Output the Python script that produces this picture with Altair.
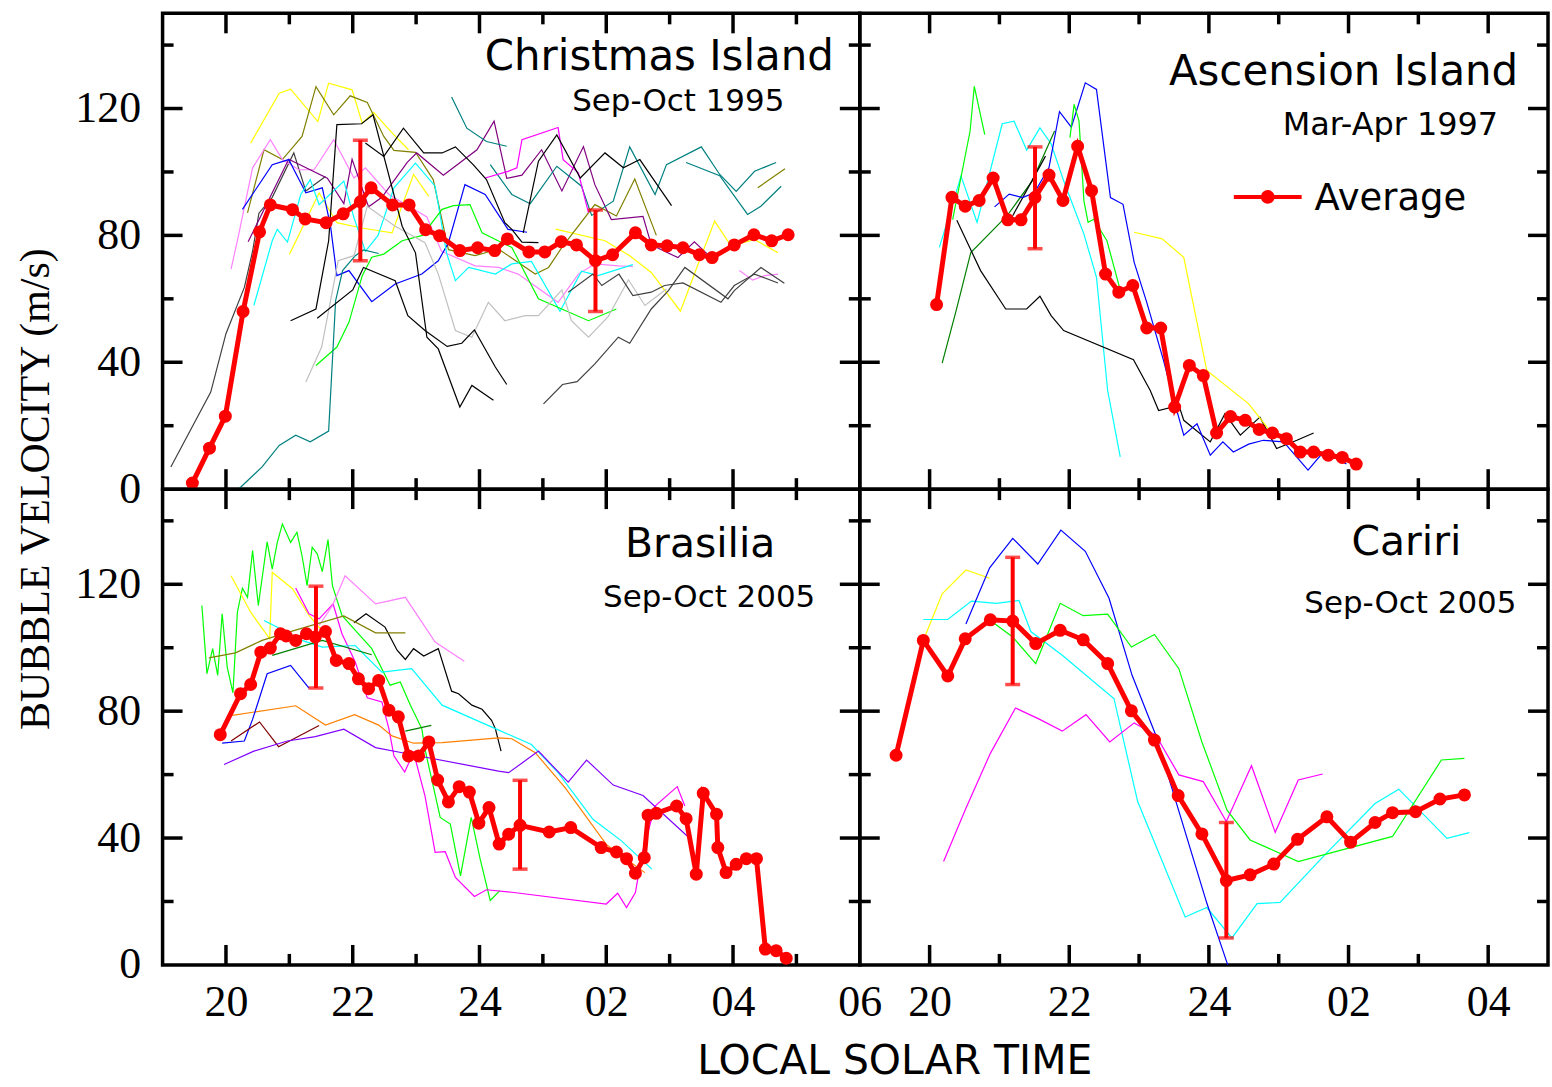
import altair as alt
import pandas as pd

# ---------------- Christmas Island, Sep-Oct 1995 ----------------
CI_AVG_T = [19.47, 19.74, 19.99, 20.27, 20.53, 20.70, 21.05, 21.25, 21.58, 21.85, 22.12, 22.29,
            22.63, 22.89, 23.15, 23.37, 23.69, 23.97, 24.24, 24.44, 24.78, 25.03, 25.29, 25.53,
            25.83, 26.10, 26.46, 26.71, 26.96, 27.21, 27.47, 27.67, 28.02, 28.33, 28.61, 28.87]
CI_AVG_V = [1.9, 12.9, 23.0, 56.0, 81.1, 89.6, 88.1, 85.2, 84.0, 86.8, 90.6, 95.0,
            89.6, 89.6, 81.8, 79.9, 75.2, 76.1, 75.2, 78.9, 74.8, 74.8, 78.0, 77.0,
            72.0, 73.9, 80.8, 77.0, 76.7, 76.1, 73.9, 73.0, 77.0, 80.2, 78.3, 80.2]
CI_ERR_T = [22.12, 25.83]
CI_ERR_LO = [72.0, 56.0]
CI_ERR_HI = [110.0, 88.0]

CI_DGRAY1 = [(19.13, 7.0), (19.76, 30.6), (20.00, 49.0), (20.29, 63.6), (20.42, 75.0), (20.52, 87.0),
             (20.73, 92.0), (21.07, 106.0), (21.26, 94.0), (21.57, 98.6)]
CI_YELLOW1 = [(20.39, 109.1), (20.84, 124.8), (21.02, 126.1), (21.45, 115.9), (21.62, 128.0), (21.99, 125.9),
              (22.15, 115.4), (22.33, 118.8), (22.62, 112.3), (22.88, 107.0)]
CI_YELLOW2 = [(21.00, 74.0), (21.47, 93.4), (21.75, 84.0), (22.12, 82.4), (22.62, 80.8), (22.96, 99.2), (23.20, 92.3)]
CI_YELLOW3 = [(25.20, 82.0), (25.98, 78.3), (26.37, 73.6), (26.71, 68.3), (27.17, 56.1), (27.45, 71.0),
              (27.71, 84.5), (27.97, 76.6), (28.34, 78.7), (28.71, 74.5)]
CI_OLIVE1 = [(20.34, 87.1), (20.60, 107.0), (20.89, 103.9), (21.20, 111.2), (21.42, 126.9), (21.70, 118.0),
             (21.96, 124.0), (22.23, 121.9), (22.49, 111.2), (22.65, 106.8), (22.99, 106.2), (23.27, 97.6),
             (23.51, 75.5), (23.93, 73.6), (24.30, 75.7), (24.88, 67.8), (25.09, 69.9), (25.30, 76.2),
             (25.82, 89.7), (26.16, 86.1), (26.45, 97.8), (26.79, 80.0)]
CI_OLIVE2 = [(28.39, 95.0), (28.82, 101.0)]
CI_PINK1 = [(20.08, 69.4), (20.18, 78.3), (20.42, 101.3), (20.70, 110.2), (20.89, 103.9), (21.15, 100.7),
            (21.39, 100.7), (21.70, 110.2), (22.02, 98.1), (22.20, 101.3), (22.57, 92.9), (23.17, 85.8),
            (23.40, 75.0), (23.93, 70.4), (24.30, 69.9), (24.61, 67.8), (25.24, 58.9), (25.56, 67.8),
            (25.82, 71.0), (26.19, 70.4), (26.42, 70.2)]
CI_PINK2 = [(28.10, 68.9), (28.31, 65.9), (28.50, 67.3), (28.71, 67.8)]
CI_PURPLE = [(20.35, 78.0), (20.99, 104.0), (21.60, 98.0), (21.86, 90.0), (21.99, 104.0), (22.25, 89.0),
             (22.46, 92.0), (22.86, 103.0), (23.01, 106.0), (23.43, 99.0), (23.96, 107.0), (24.23, 116.0),
             (24.43, 98.0), (24.67, 99.0), (24.98, 107.0), (25.30, 94.0), (25.64, 108.0), (25.82, 96.0),
             (26.08, 85.0), (26.58, 86.0), (26.71, 77.0), (27.13, 73.0), (27.39, 78.0), (27.60, 74.0)]
CI_BLUE = [(20.26, 88.2), (20.73, 102.3), (20.99, 103.9), (21.26, 93.4), (21.52, 95.0), (21.65, 82.9),
           (21.75, 67.3), (21.94, 68.9), (22.30, 59.1), (22.67, 64.7), (23.09, 67.8), (23.35, 72.0),
           (23.51, 77.7), (23.77, 96.0), (24.09, 92.9), (24.45, 81.9), (24.75, 81.0)]
CI_CYAN = [(20.44, 57.9), (20.73, 78.3), (20.81, 81.9), (20.97, 77.9), (21.18, 92.9), (21.33, 97.6),
           (21.47, 89.7), (21.86, 97.1), (22.02, 85.5), (22.20, 75.0), (22.40, 80.0), (22.65, 95.0),
           (22.99, 102.8), (23.30, 95.5), (23.48, 74.5), (23.62, 65.7), (23.83, 69.9), (24.25, 67.8),
           (24.51, 71.0), (24.82, 71.8), (25.27, 56.1), (25.61, 68.7), (25.87, 67.3), (26.42, 70.8)]
CI_GREEN = [(21.42, 39.0), (21.75, 44.8), (21.94, 52.6), (22.15, 67.3), (22.30, 73.1), (22.49, 74.1),
            (22.78, 78.3), (23.10, 80.0), (23.41, 88.2), (23.59, 89.4), (23.85, 89.7), (24.04, 80.8),
            (24.51, 76.2), (24.93, 60.0), (25.72, 53.1), (26.16, 56.8)]
CI_TEAL1 = [(20.21, 0.2), (20.57, 7.0), (20.84, 13.8), (21.10, 17.0), (21.33, 14.9), (21.62, 18.3),
            (21.73, 59.4), (21.84, 68.9), (22.04, 73.6), (22.17, 75.4), (22.41, 74.3)]
CI_TEAL2 = [(23.56, 123.6), (23.80, 113.8), (24.11, 109.6), (24.43, 108.1)]
CI_TEAL3 = [(24.17, 102.3), (24.51, 92.9), (24.80, 90.0), (25.22, 101.8), (25.61, 95.5), (25.77, 86.3),
            (26.11, 90.8), (26.37, 107.9), (26.77, 92.9), (26.95, 102.3), (27.50, 107.9), (27.79, 99.2),
            (28.05, 93.9), (28.34, 100.2), (28.68, 103.0)]
CI_TEAL4 = [(27.26, 103.0), (27.79, 98.8), (28.23, 86.6), (28.44, 89.2), (28.76, 95.5)]
CI_MAGENTA = [(24.09, 98.1), (24.45, 100.2), (24.59, 101.3), (24.67, 110.2), (25.24, 114.0), (25.32, 103.9),
              (25.56, 99.7), (25.72, 87.1)]
CI_LGRAY = [(21.26, 33.8), (21.51, 44.8), (21.77, 72.0), (22.02, 73.6), (22.23, 89.2), (22.67, 82.9),
            (23.14, 77.7), (23.35, 67.8), (23.62, 50.0), (23.88, 47.9), (24.14, 58.9), (24.40, 53.1),
            (24.72, 54.7), (24.93, 54.7), (25.30, 62.8), (25.45, 53.1), (25.72, 47.9), (26.03, 54.4),
            (26.35, 66.0), (26.61, 57.9), (26.95, 63.1)]
CI_BLACK1 = [(21.02, 53.1), (21.42, 56.8), (21.62, 78.3), (21.75, 114.9), (22.14, 115.2), (22.32, 118.0),
             (22.78, 82.9), (22.99, 74.5), (23.17, 47.9), (23.35, 44.2), (23.69, 25.9), (23.88, 32.7), (24.22, 28.0)]
CI_BLACK2 = [(21.44, 53.9), (22.00, 62.8), (22.17, 69.9), (22.67, 65.7), (22.87, 54.7), (23.14, 50.0),
             (23.49, 45.0), (23.72, 46.0), (23.92, 50.2), (24.25, 38.5), (24.43, 33.0)]
CI_BLACK3 = [(22.20, 109.1), (22.49, 104.9), (22.80, 113.8), (23.12, 106.0), (23.41, 106.0), (23.62, 107.9),
             (23.90, 102.3), (24.11, 97.6), (24.40, 84.0), (24.51, 81.9), (24.67, 77.9), (24.93, 77.7)]
CI_BLACK4 = [(24.69, 80.8), (24.93, 103.4), (25.22, 111.7), (25.59, 98.1), (25.98, 106.0), (26.27, 101.3),
             (26.53, 103.9), (27.03, 89.4)]
CI_BLACK5 = [(25.40, 62.1), (25.79, 67.8), (25.93, 64.2), (26.20, 67.8), (26.42, 61.0), (26.71, 62.1),
             (26.92, 64.2), (27.21, 65.0), (27.81, 58.9), (28.02, 64.2), (28.34, 67.8), (28.71, 65.0)]
CI_DGRAY2 = [(25.01, 26.9), (25.31, 33.0), (25.54, 33.9), (25.82, 39.5), (26.19, 47.9), (26.37, 46.0),
             (26.71, 56.8), (26.98, 62.6), (27.24, 69.9), (27.92, 60.0), (28.02, 62.6), (28.44, 69.9), (28.81, 64.9)]

# ---------------- Ascension Island, Mar-Apr 1997 ----------------
AS_AVG_T = [20.10, 20.32, 20.51, 20.71, 20.91, 21.12, 21.31, 21.51, 21.71, 21.91, 22.12, 22.32, 22.52,
            22.71, 22.91, 23.11, 23.31, 23.51, 23.72, 23.92, 24.11, 24.31, 24.52, 24.72, 24.91, 25.11,
            25.31, 25.50, 25.71, 25.91, 26.11]
AS_AVG_V = [58.2, 92.0, 89.2, 91.0, 98.1, 84.9, 84.9, 92.0, 99.0, 91.0, 108.1, 94.1, 67.8,
            62.1, 64.2, 50.8, 50.8, 25.9, 39.0, 35.8, 17.7, 22.9, 21.7, 18.8, 17.7, 15.9,
            11.7, 11.7, 10.7, 10.0, 7.9]
AS_ERR_T = [21.51]
AS_ERR_LO = [75.8]
AS_ERR_HI = [107.9]

AS_CYAN = [(20.14, 76.2), (20.45, 98.7), (20.68, 84.1), (21.04, 115.2), (21.21, 116.0), (21.39, 106.9),
           (21.58, 113.9), (21.74, 108.9), (21.92, 97.2), (22.21, 80.4), (22.39, 66.8), (22.55, 31.1), (22.73, 10.2)]
AS_GREEN1 = [(20.33, 85.0), (20.58, 112.9), (20.64, 127.0), (20.79, 111.8)]
AS_DGREEN = [(20.18, 39.7), (20.38, 56.3), (20.59, 74.6), (21.11, 86.2), (21.47, 97.2), (21.79, 112.9)]
AS_BLACK1 = [(20.39, 84.8), (20.73, 68.9), (21.09, 56.8), (21.39, 56.8), (21.58, 60.8), (21.74, 54.7),
             (21.92, 50.0), (22.92, 40.8), (23.16, 31.1), (23.28, 24.8), (23.57, 26.4),
             (23.64, 21.7), (24.02, 14.9), (24.23, 23.8), (24.45, 17.0), (24.73, 22.7), (24.97, 12.8),
             (25.26, 15.4), (25.50, 17.7)]
AS_BLACK2 = [(21.19, 86.2), (21.66, 105.0)]
AS_BLUE = [(20.93, 89.0), (21.14, 93.0), (21.33, 91.9), (21.50, 93.4), (21.71, 101.4), (21.86, 119.0),
           (22.03, 114.1), (22.23, 128.1), (22.39, 126.0), (22.59, 91.9), (22.77, 89.8), (22.93, 71.5),
           (23.11, 58.9), (23.35, 40.6), (23.50, 28.0), (23.64, 17.0), (23.83, 20.6), (24.02, 10.7),
           (24.20, 14.9), (24.35, 11.7), (24.57, 14.2), (24.78, 15.4), (25.07, 14.9), (25.42, 6.0),
           (25.64, 11.7), (25.97, 7.9)]
AS_YELLOW = [(22.93, 81.0), (23.33, 78.9), (23.64, 73.1), (23.97, 37.4), (24.57, 26.9), (24.85, 19.1)]
AS_GREEN2 = [(22.01, 110.8), (22.07, 121.3), (22.14, 116.0), (22.21, 90.9), (22.27, 84.1), (22.35, 85.1),
             (22.54, 78.3), (22.72, 63.6)]

# ---------------- Brasilia, Sep-Oct 2005 ----------------
BR_AVG_T = [19.91, 20.23, 20.39, 20.55, 20.70, 20.86, 20.95, 21.10, 21.27, 21.41, 21.57, 21.74, 21.94,
            22.09, 22.25, 22.41, 22.57, 22.72, 22.88, 23.04, 23.20, 23.34, 23.51, 23.68, 23.84, 23.99,
            24.15, 24.31, 24.46, 24.64, 25.10, 25.44, 25.92, 26.16, 26.32, 26.46, 26.60, 26.66, 26.79,
            27.11, 27.26, 27.42, 27.53, 27.74, 27.76, 27.89, 28.05, 28.21, 28.37, 28.51, 28.68, 28.84]
BR_AVG_V = [72.6, 85.5, 88.4, 98.6, 99.9, 104.4, 103.7, 102.3, 104.4, 103.4, 105.1, 96.0, 95.0,
            90.2, 87.1, 89.7, 80.3, 78.2, 65.9, 65.9, 70.3, 58.3, 51.4, 56.2, 54.5, 44.7,
            49.6, 38.1, 41.2, 44.0, 41.9, 43.3, 37.0, 35.6, 33.5, 28.9, 33.8, 47.2, 47.8,
            50.1, 46.1, 28.6, 54.1, 47.5, 37.0, 29.1, 31.7, 33.5, 33.5, 5.0, 4.5, 2.1]
BR_ERR_T = [21.42, 24.64]
BR_ERR_LO = [87.3, 30.2]
BR_ERR_HI = [119.4, 58.2]

BR_GREEN = [(19.62, 113.3), (19.70, 91.8), (19.79, 99.7), (19.87, 91.3), (19.94, 110.7), (20.02, 93.9),
            (20.11, 85.8), (20.18, 111.2), (20.26, 118.8), (20.34, 115.9), (20.42, 130.6), (20.51, 113.3),
            (20.65, 133.4), (20.73, 124.8), (20.81, 133.2), (20.89, 139.0), (21.02, 133.2), (21.12, 136.4),
            (21.20, 129.0), (21.28, 119.6), (21.36, 131.7), (21.44, 129.6), (21.52, 124.0), (21.61, 134.1),
            (21.68, 119.6), (21.83, 110.2), (22.30, 99.7), (22.59, 88.2), (22.75, 89.2), (22.91, 81.9),
            (23.09, 74.5), (23.14, 68.0), (23.38, 46.5), (23.54, 44.4), (23.70, 28.1), (23.87, 46.5),
            (24.01, 33.4), (24.17, 20.3), (24.32, 23.4)]
BR_YELLOW = [(20.08, 122.7), (20.39, 111.2), (20.69, 102.8), (20.73, 123.8), (21.05, 118.6), (21.31, 110.2),
             (21.49, 106.0)]
BR_MAGENTA = [(21.10, 118.8), (21.31, 110.7), (21.47, 109.1), (21.69, 113.8), (21.83, 104.4), (22.04, 95.5),
              (22.23, 84.2), (22.46, 82.9), (22.57, 74.5), (22.65, 65.9), (22.82, 60.8), (22.96, 67.0),
              (23.14, 53.3), (23.30, 35.5), (23.46, 35.7), (23.62, 27.6), (23.92, 21.6), (24.11, 23.7),
              (24.51, 22.9), (26.00, 19.2), (26.18, 22.6), (26.32, 18.1), (26.46, 22.8), (26.57, 35.4),
              (26.77, 50.1), (27.12, 56.2), (27.24, 50.1)]
BR_PINK = [(21.47, 107.0), (21.68, 113.3), (21.88, 122.7), (22.36, 113.8), (22.83, 115.9), (23.30, 101.8),
           (23.76, 95.7)]
BR_BLACK = [(22.02, 107.9), (22.21, 110.7), (22.51, 106.5), (22.70, 99.2), (22.83, 96.3), (22.96, 99.7),
            (23.12, 97.4), (23.35, 99.7), (23.56, 86.3), (23.67, 85.5), (23.88, 81.9), (24.04, 80.6),
            (24.19, 77.1), (24.25, 74.5), (24.34, 67.4)]
BR_OLIVE = [(19.73, 96.8), (20.15, 98.4), (20.57, 102.3), (20.99, 104.9), (21.86, 110.0), (22.36, 104.7),
            (22.83, 104.7)]
BR_CYAN = [(20.60, 108.6), (20.86, 106.0), (21.20, 102.3), (21.52, 100.2), (22.04, 100.7), (22.46, 92.3),
           (22.93, 93.4), (23.41, 81.9), (24.25, 74.5), (24.82, 69.5), (25.24, 60.6), (25.79, 45.9),
           (26.24, 39.1), (26.72, 30.2)]
BR_ORANGE = [(20.10, 78.7), (21.10, 81.7), (21.57, 75.6), (22.03, 78.9), (22.41, 75.6), (22.62, 72.2),
             (22.96, 69.9), (23.41, 70.1), (24.30, 71.6), (24.51, 71.3), (24.88, 66.9), (25.35, 55.9),
             (26.00, 38.0), (26.61, 29.1)]
BR_BLUE = [(19.94, 69.9), (20.29, 70.6), (20.42, 77.4), (20.65, 91.8), (21.02, 94.4), (21.31, 87.3)]
BR_BROWN = [(20.08, 70.6), (20.53, 76.6), (20.83, 68.8), (21.47, 75.5)]
BR_VIOLET = [(19.97, 63.2), (20.44, 67.4), (20.97, 70.6), (21.41, 72.0), (21.86, 74.3), (22.36, 68.5),
             (22.78, 66.9), (24.30, 61.1), (24.46, 60.6), (24.93, 67.4), (25.40, 57.6), (25.69, 64.6),
             (26.11, 56.7), (26.58, 53.4), (27.29, 40.4)]
BR_DGREEN1 = [(20.73, 97.6), (21.52, 102.3), (22.30, 97.8)]
BR_DGREEN2 = [(22.83, 73.7), (23.24, 75.5)]

# ---------------- Cariri, Sep-Oct 2005 ----------------
CR_AVG_T = [19.52, 19.91, 20.26, 20.51, 20.87, 21.19, 21.52, 21.87, 22.20, 22.55, 22.89, 23.22, 23.56,
            23.90, 24.25, 24.59, 24.93, 25.27, 25.69, 26.03, 26.38, 26.63, 26.96, 27.31, 27.66]
CR_AVG_V = [66.1, 102.3, 91.1, 102.8, 108.8, 108.4, 101.3, 105.5, 102.5, 95.0, 80.1, 70.9, 53.4,
            41.3, 26.6, 28.4, 31.8, 39.6, 46.7, 38.7, 44.9, 48.0, 48.3, 52.3, 53.6]
CR_ERR_T = [21.19, 24.25]
CR_ERR_LO = [88.4, 8.5]
CR_ERR_HI = [128.5, 44.9]

CR_YELLOW = [(19.91, 102.3), (20.18, 117.0), (20.52, 124.5), (20.86, 121.9)]
CR_CYAN = [(19.91, 108.9), (20.26, 108.9), (20.60, 114.7), (20.95, 114.0), (21.28, 114.9), (21.45, 105.1),
           (21.90, 97.6), (22.24, 91.3), (22.64, 84.0), (22.98, 51.5), (23.66, 15.1), (23.97, 18.1),
           (24.33, 8.5), (24.69, 19.3), (25.02, 19.7), (25.66, 34.7), (26.38, 50.9), (26.72, 55.4),
           (27.41, 39.9), (27.73, 41.7)]
CR_BLUE = [(20.52, 107.5), (20.86, 125.2), (21.19, 134.5), (21.55, 126.4), (21.88, 137.1), (22.23, 130.4),
           (22.57, 115.6), (22.90, 91.3), (23.24, 72.4), (23.97, 19.5), (24.27, 0.0)]
CR_GREEN = [(20.87, 108.6), (21.19, 103.4), (21.52, 95.0), (21.87, 114.0), (22.20, 110.1), (22.55, 110.6),
            (22.89, 100.2), (23.22, 104.2), (23.57, 93.4), (23.90, 70.3), (24.26, 48.8), (24.59, 39.4),
            (25.28, 32.6), (26.63, 40.5), (27.33, 64.6), (27.66, 65.1)]
CR_MAGENTA = [(20.20, 32.6), (20.52, 49.4), (20.87, 66.7), (21.23, 81.0), (21.57, 77.5), (21.90, 73.7),
              (22.24, 78.9), (22.58, 70.3), (22.93, 76.3), (23.24, 72.4), (23.57, 59.9), (23.92, 57.8),
              (24.25, 45.2), (24.61, 62.8), (24.95, 41.8), (25.28, 58.3), (25.63, 60.2)]

X_LABEL_VALUES_LEFT = [20, 22, 24, 26, 28, 30]
X_LABEL_VALUES_RIGHT = [20, 22, 24, 26, 28]
Y_LABEL_VALUES = [0, 40, 80, 120]

# ---------------- styling ----------------
YEL, OLV, PNK, MAG, PUR = "#ffff00", "#808000", "#ff80ff", "#ff00ff", "#800080"
BLU, CYN, LIM, TEA, LGR = "#0000ff", "#00ffff", "#00ff00", "#008080", "#c0c0c0"
BLK, DGR, DGN, ORG, BRN, VIO = "#000000", "#404040", "#008000", "#ff8000", "#800000", "#8000ff"

CI_SERIES = [(CI_DGRAY1, DGR), (CI_YELLOW1, YEL), (CI_YELLOW2, YEL), (CI_YELLOW3, YEL), (CI_OLIVE1, OLV),
             (CI_OLIVE2, OLV), (CI_PINK1, PNK), (CI_PINK2, PNK), (CI_PURPLE, PUR), (CI_BLUE, BLU),
             (CI_CYAN, CYN), (CI_GREEN, LIM), (CI_TEAL1, TEA), (CI_TEAL2, TEA), (CI_TEAL3, TEA),
             (CI_TEAL4, TEA), (CI_MAGENTA, MAG), (CI_LGRAY, LGR), (CI_BLACK1, BLK), (CI_BLACK2, BLK),
             (CI_BLACK3, BLK), (CI_BLACK4, BLK), (CI_BLACK5, DGR), (CI_DGRAY2, DGR)]
AS_SERIES = [(AS_CYAN, CYN), (AS_GREEN1, LIM), (AS_DGREEN, DGN), (AS_BLACK1, BLK), (AS_BLACK2, BLK),
             (AS_BLUE, BLU), (AS_YELLOW, YEL), (AS_GREEN2, LIM)]
BR_SERIES = [(BR_GREEN, LIM), (BR_YELLOW, YEL), (BR_MAGENTA, MAG), (BR_PINK, PNK), (BR_BLACK, BLK),
             (BR_OLIVE, OLV), (BR_CYAN, CYN), (BR_ORANGE, ORG), (BR_BLUE, BLU), (BR_BROWN, BRN),
             (BR_VIOLET, VIO), (BR_DGREEN1, DGN), (BR_DGREEN2, DGN)]
CR_SERIES = [(CR_YELLOW, YEL), (CR_CYAN, CYN), (CR_BLUE, BLU), (CR_GREEN, LIM), (CR_MAGENTA, MAG)]

SERIF = "Liberation Serif"
SANS = "DejaVu Sans"
H = 477
W_LEFT, W_RIGHT = 699, 690
ONE = pd.DataFrame({"k": [0]})


def lines_df(series):
    rows = []
    for si, (pts, col) in enumerate(series):
        for i, (t, v) in enumerate(pts):
            rows.append({"s": si, "c": col, "t": t, "v": v, "i": i})
    return pd.DataFrame(rows)


def text_layer(txt, x, y, size, font=SANS, align="center", angle=0):
    return alt.Chart(ONE).mark_text(text=txt, fontSize=size, font=font, align=align,
                                    baseline="alphabetic", angle=angle,
                                    color="black").encode(x=alt.value(x), y=alt.value(y))


def panel(series, avg_t, avg_v, err_t, err_lo, err_hi, xmax, width, xlabels, ylabels, texts):
    xs = alt.Scale(domain=[19, xmax], nice=False, zero=False)
    ys = alt.Scale(domain=[0, 150], nice=False, zero=False)
    if xlabels is not None:
        xaxis = alt.Axis(values=xlabels, title=None, ticks=False, domain=False, grid=False,
                         labelFont=SERIF, labelFontSize=44, labelColor="black", labelPadding=16,
                         labelFlush=False, labelOverlap=False,
                         labelExpr="datum.value <= 24 ? '' + datum.value : '0' + (datum.value - 24)")
    else:
        xaxis = None
    if ylabels is not None:
        yaxis = alt.Axis(values=ylabels, title=None, ticks=False, domain=False, grid=False,
                         labelFont=SERIF, labelFontSize=44, labelColor="black", labelPadding=22,
                         labelFlush=False, labelOverlap=False)
    else:
        yaxis = None

    base_x = alt.X("t:Q", scale=xs, axis=xaxis)
    base_y = alt.Y("v:Q", scale=ys, axis=yaxis)

    thin = alt.Chart(lines_df(series)).mark_line(strokeWidth=1.2).encode(
        x=base_x, y=base_y, color=alt.Color("c:N", scale=None), detail="s:N", order="i:Q")

    avg = pd.DataFrame({"t": avg_t, "v": avg_v})
    red_line = alt.Chart(avg).mark_line(color="#ff0000", strokeWidth=5).encode(
        x=alt.X("t:Q", scale=xs), y=alt.Y("v:Q", scale=ys))
    red_pts = alt.Chart(avg).mark_circle(color="#ff0000", opacity=1, size=170).encode(
        x=alt.X("t:Q", scale=xs), y=alt.Y("v:Q", scale=ys))

    err = pd.DataFrame({"t": err_t, "lo": err_lo, "hi": err_hi})
    err_rule = alt.Chart(err).mark_rule(color="#ff0000", strokeWidth=4).encode(
        x=alt.X("t:Q", scale=xs), y=alt.Y("lo:Q", scale=ys), y2="hi:Q")
    cap_lo = alt.Chart(err).mark_tick(color="#ff0000", orient="horizontal", size=15, thickness=3.5).encode(
        x=alt.X("t:Q", scale=xs), y=alt.Y("lo:Q", scale=ys))
    cap_hi = alt.Chart(err).mark_tick(color="#ff0000", orient="horizontal", size=15, thickness=3.5).encode(
        x=alt.X("t:Q", scale=xs), y=alt.Y("hi:Q", scale=ys))

    # inward ticks on all four sides
    hours = [h for h in range(20, int(xmax) + 1) if h < 30]
    xmaj = pd.DataFrame({"t": [h for h in hours if h % 2 == 0]})
    xmin = pd.DataFrame({"t": [h for h in hours if h % 2 == 1]})
    ymaj = pd.DataFrame({"v": [40, 80, 120]})
    ymin = pd.DataFrame({"v": [20, 60, 100, 140]})
    tick_layers = []
    for dfx, L in ((xmaj, 20), (xmin, 11)):
        tick_layers.append(alt.Chart(dfx).mark_rule(color="black", strokeWidth=3.5).encode(
            x=alt.X("t:Q", scale=xs), y=alt.value(H), y2=alt.value(H - L)))
        tick_layers.append(alt.Chart(dfx).mark_rule(color="black", strokeWidth=3.5).encode(
            x=alt.X("t:Q", scale=xs), y=alt.value(0), y2=alt.value(L)))
    for dfy, L in ((ymaj, 20), (ymin, 11)):
        tick_layers.append(alt.Chart(dfy).mark_rule(color="black", strokeWidth=3.5).encode(
            y=alt.Y("v:Q", scale=ys), x=alt.value(0), x2=alt.value(L)))
        tick_layers.append(alt.Chart(dfy).mark_rule(color="black", strokeWidth=3.5).encode(
            y=alt.Y("v:Q", scale=ys), x=alt.value(width), x2=alt.value(width - L)))

    layers = [thin, red_line, red_pts, err_rule, cap_lo, cap_hi] + tick_layers + texts
    return alt.layer(*layers).properties(width=width, height=H)


tl_texts = [
    text_layer("Christmas Island", 498, 57, 42),
    text_layer("Sep-Oct 1995", 517, 98, 31),
    text_layer("BUBBLE VELOCITY (m/s)", -114, 477, 42, font=SERIF, angle=270),
]
tr_texts = [
    text_layer("Ascension Island", 485, 72, 42),
    text_layer("Mar-Apr 1997", 532, 122, 32),
    alt.Chart(ONE).mark_rule(color="#ff0000", strokeWidth=4).encode(
        x=alt.value(375), x2=alt.value(443), y=alt.value(184)),
    alt.Chart(ONE).mark_circle(color="#ff0000", opacity=1, size=190).encode(
        x=alt.value(409), y=alt.value(184)),
    text_layer("Average", 456, 197, 37, align="left"),
]
bl_texts = [
    text_layer("Brasilia", 539, 68, 41),
    text_layer("Sep-Oct 2005", 548, 118, 31),
    text_layer("LOCAL SOLAR TIME", 734, 586, 41),
]
br_texts = [
    text_layer("Cariri", 548, 66, 41),
    text_layer("Sep-Oct 2005", 552, 124, 31),
]

TL = panel(CI_SERIES, CI_AVG_T, CI_AVG_V, CI_ERR_T, CI_ERR_LO, CI_ERR_HI, 30, W_LEFT,
           None, Y_LABEL_VALUES, tl_texts)
TR = panel(AS_SERIES, AS_AVG_T, AS_AVG_V, AS_ERR_T, AS_ERR_LO, AS_ERR_HI, 28.857, W_RIGHT,
           None, None, tr_texts)
BL = panel(BR_SERIES, BR_AVG_T, BR_AVG_V, BR_ERR_T, BR_ERR_LO, BR_ERR_HI, 30, W_LEFT,
           X_LABEL_VALUES_LEFT, Y_LABEL_VALUES, bl_texts)
BRp = panel(CR_SERIES, CR_AVG_T, CR_AVG_V, CR_ERR_T, CR_ERR_LO, CR_ERR_HI, 28.857, W_RIGHT,
            X_LABEL_VALUES_RIGHT, None, br_texts)

chart = alt.concat(TL, TR, BL, BRp, columns=2, spacing=0, bounds="flush").properties(
    padding={"left": 13, "top": 8, "right": 0, "bottom": 0},
    background="white",
).configure_view(stroke="black", strokeWidth=3.5)

chart.save("out.html", embed_options={"renderer": "svg", "actions": False})
